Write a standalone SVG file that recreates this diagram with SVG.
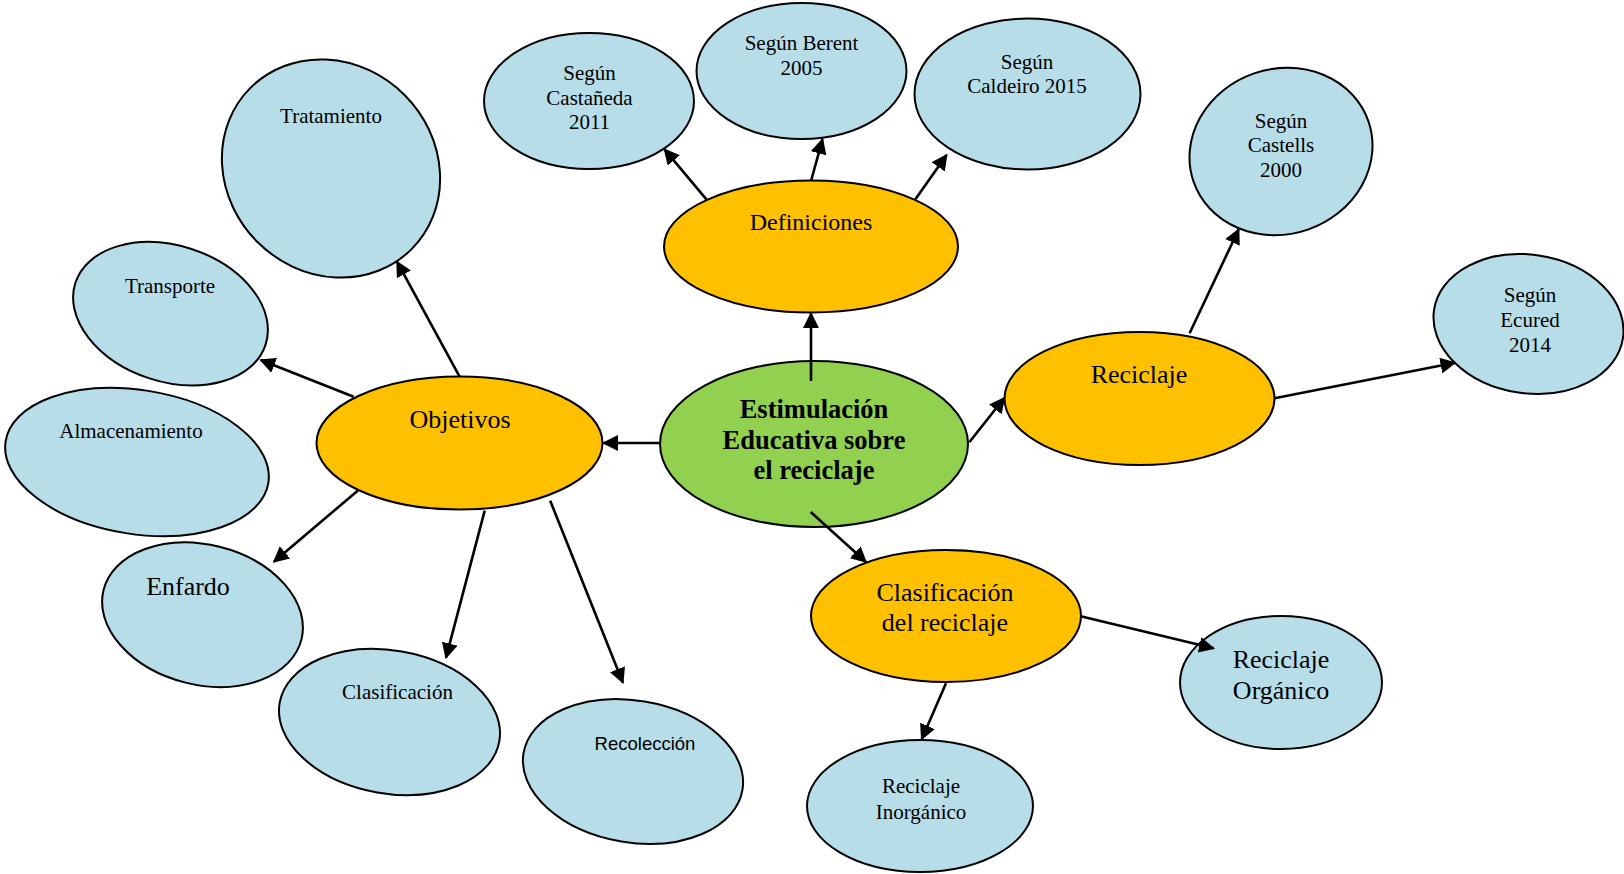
<svg xmlns="http://www.w3.org/2000/svg" width="1624" height="874" viewBox="0 0 1624 874">
  <defs>
    <marker id="arrow" markerUnits="userSpaceOnUse" markerWidth="16" markerHeight="16" viewBox="0 0 16 16" refX="14.5" refY="8" orient="auto">
      <path d="M0,0 L16,8 L0,16 z" fill="#000"/>
    </marker>
    <style>
      .leaf { fill: #B7DDE8; stroke: #000; stroke-width: 2; }
      .branch { fill: #FFC000; stroke: #000; stroke-width: 2; }
      .core { fill: #92D050; stroke: #000; stroke-width: 2; }
      .edge { stroke: #000; stroke-width: 2.6; fill: none; marker-end: url(#arrow); }
      .plain { stroke: #000; stroke-width: 2.6; fill: none; }
      text { font-family: "Liberation Serif", "Times New Roman", serif; fill: #000; text-anchor: middle; }
      .s { font-size: 21px; }
      .m { font-size: 24px; }
      .l { font-size: 26px; }
      .b { font-size: 26.5px; font-weight: bold; }
      .sans { font-family: "Liberation Sans", Arial, sans-serif; font-size: 18.5px; }
    </style>
  </defs>
  <rect width="1624" height="874" fill="#fff"/>

  <!-- central topic -->
  <g id="estimulacion">
    <ellipse class="core" cx="814" cy="444" rx="154" ry="83"/>
    <text class="b" x="814" y="418">Estimulación</text>
    <text class="b" x="814" y="448.5">Educativa sobre</text>
    <text class="b" x="814" y="479">el reciclaje</text>
  </g>

  <!-- second level -->
  <g id="definiciones">
    <ellipse class="branch" cx="811" cy="246.5" rx="147" ry="66"/>
    <text class="m" x="811" y="230">Definiciones</text>
  </g>
  <g id="objetivos">
    <ellipse class="branch" cx="459.5" cy="443" rx="143" ry="66.5"/>
    <text class="l" x="460" y="428">Objetivos</text>
  </g>
  <g id="reciclaje">
    <ellipse class="branch" cx="1139.5" cy="398.5" rx="135" ry="66.5"/>
    <text class="l" x="1139" y="383">Reciclaje</text>
  </g>
  <g id="clasificacion-reciclaje">
    <ellipse class="branch" cx="946" cy="616" rx="135" ry="66"/>
    <text class="l" x="945" y="601">Clasificación</text>
    <text class="l" x="945" y="631">del reciclaje</text>
  </g>

  <!-- definitions -->
  <g id="castaneda">
    <ellipse class="leaf" cx="589" cy="101" rx="105" ry="68"/>
    <text class="s" x="589.5" y="80">Según</text>
    <text class="s" x="589.5" y="104.5">Castañeda</text>
    <text class="s" x="589.5" y="129">2011</text>
  </g>
  <g id="berent">
    <ellipse class="leaf" cx="801.5" cy="71" rx="105" ry="68"/>
    <text class="s" x="801.5" y="50">Según Berent</text>
    <text class="s" x="801.5" y="75">2005</text>
  </g>
  <g id="caldeiro">
    <ellipse class="leaf" cx="1027.5" cy="94" rx="113" ry="75.5"/>
    <text class="s" x="1027" y="68.5">Según</text>
    <text class="s" x="1027" y="93">Caldeiro 2015</text>
  </g>

  <!-- recycling sources -->
  <g id="castells">
    <ellipse class="leaf" cx="1281" cy="151.5" rx="92.5" ry="82.6" transform="rotate(-19 1281 151.5)"/>
    <text class="s" x="1281" y="127.5">Según</text>
    <text class="s" x="1281" y="151.5">Castells</text>
    <text class="s" x="1281" y="176.5">2000</text>
  </g>
  <g id="ecured">
    <ellipse class="leaf" cx="1528.5" cy="324" rx="95.5" ry="69.3" transform="rotate(8.5 1528.5 324)"/>
    <text class="s" x="1530" y="302">Según</text>
    <text class="s" x="1530" y="327">Ecured</text>
    <text class="s" x="1530" y="352">2014</text>
  </g>

  <!-- classification -->
  <g id="inorganico">
    <ellipse class="leaf" cx="920" cy="806" rx="113" ry="66"/>
    <text class="s" x="921" y="793">Reciclaje</text>
    <text class="s" x="921" y="818.5">Inorgánico</text>
  </g>
  <g id="organico">
    <ellipse class="leaf" cx="1281" cy="682.5" rx="101" ry="66.5"/>
    <text class="l" x="1281" y="667.5">Reciclaje</text>
    <text class="l" x="1281" y="698.5">Orgánico</text>
  </g>

  <!-- objectives -->
  <g id="tratamiento">
    <ellipse class="leaf" cx="331" cy="168.5" rx="114" ry="104" transform="rotate(45 331 168.5)"/>
    <text class="s" x="331" y="122.5">Tratamiento</text>
  </g>
  <g id="transporte">
    <ellipse class="leaf" cx="170.5" cy="313.7" rx="100" ry="68" transform="rotate(18 170.5 313.7)"/>
    <text class="s" x="170" y="293">Transporte</text>
  </g>
  <g id="almacenamiento">
    <ellipse class="leaf" cx="137" cy="462" rx="133" ry="72" transform="rotate(9 137 462)"/>
    <text class="s" x="131" y="438.3">Almacenamiento</text>
  </g>
  <g id="enfardo">
    <ellipse class="leaf" cx="202.5" cy="614.7" rx="102" ry="70" transform="rotate(14 202.5 614.7)"/>
    <text class="l" x="188" y="595">Enfardo</text>
  </g>
  <g id="clasificacion">
    <ellipse class="leaf" cx="389.5" cy="722" rx="111.5" ry="71.5" transform="rotate(10 389.5 722)"/>
    <text class="s" x="397.5" y="699">Clasificación</text>
  </g>
  <g id="recoleccion">
    <ellipse class="leaf" cx="633" cy="771.5" rx="111" ry="71" transform="rotate(9.5 633 771.5)"/>
    <text class="sans" x="645" y="750">Recolección</text>
  </g>

  <!-- connectors -->
  <g id="connectors">
    <line class="edge" x1="811" y1="381" x2="811" y2="313.5"/>
    <line class="edge" x1="659" y1="443" x2="603.5" y2="443"/>
    <line class="edge" x1="969.3" y1="442.2" x2="1004.3" y2="398"/>
    <line class="edge" x1="810.7" y1="512" x2="866" y2="562"/>

    <line class="edge" x1="706.4" y1="199.3" x2="664.5" y2="149.3"/>
    <line class="edge" x1="811.3" y1="180" x2="822.5" y2="139.3"/>
    <line class="edge" x1="915.4" y1="199.3" x2="946.6" y2="155"/>

    <line class="edge" x1="459.6" y1="376.7" x2="397" y2="261.7"/>
    <line class="edge" x1="353.6" y1="396.7" x2="260.7" y2="360"/>
    <line class="edge" x1="357.7" y1="490.7" x2="273.9" y2="561.7"/>
    <line class="edge" x1="484.7" y1="510.7" x2="446" y2="657.7"/>
    <line class="edge" x1="550.2" y1="500.7" x2="622.9" y2="682.7"/>

    <line class="edge" x1="1189.6" y1="333.3" x2="1238.7" y2="229.3"/>
    <line class="edge" x1="1274.5" y1="398.3" x2="1455" y2="362.7"/>

    <line class="edge" x1="946" y1="683.3" x2="921.7" y2="739.2"/>
    <line class="edge" x1="1081.7" y1="616.6" x2="1213.6" y2="648.3"/>
  </g>
</svg>
